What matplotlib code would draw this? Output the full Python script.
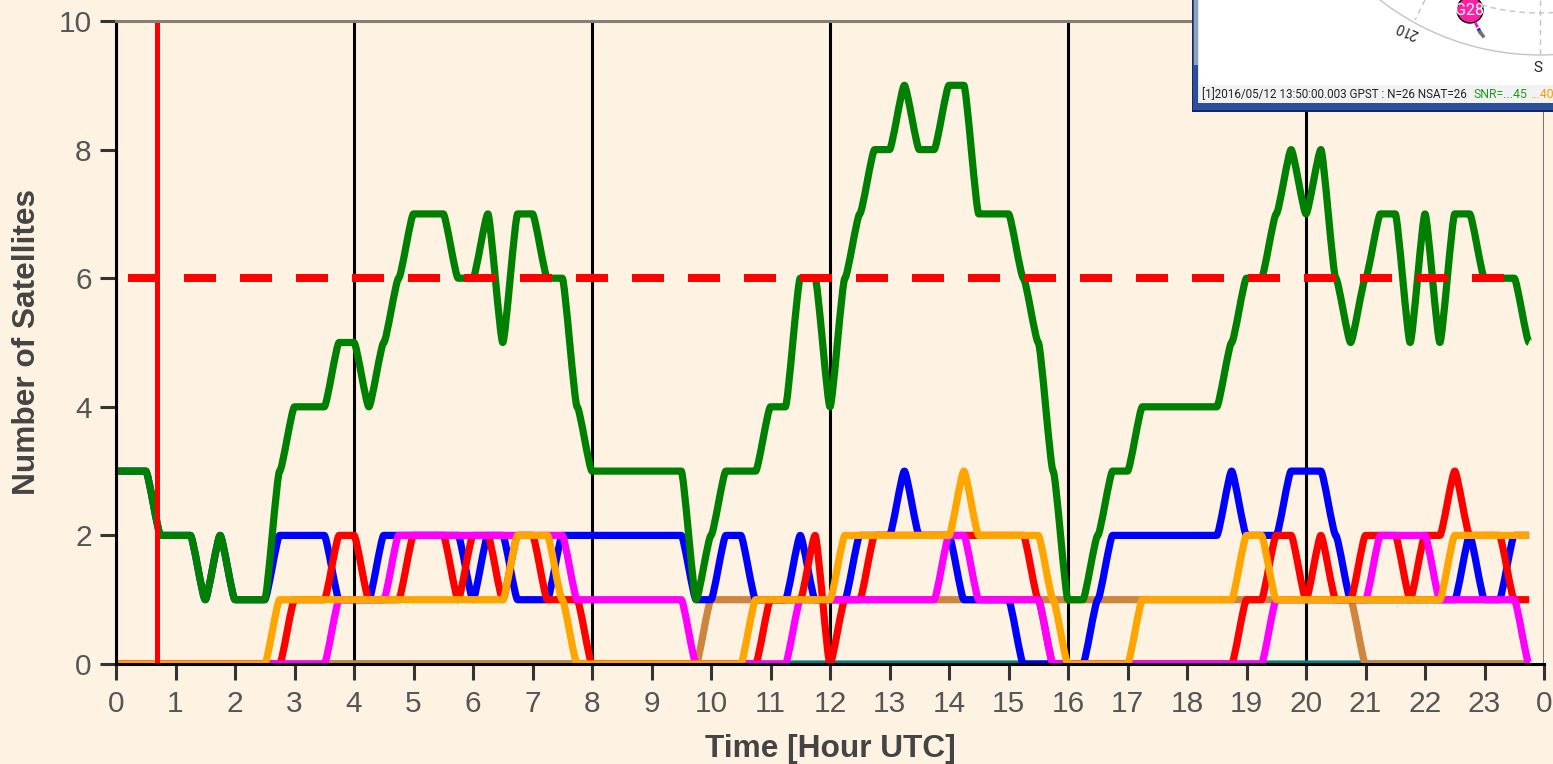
import numpy as np
import matplotlib
matplotlib.use("Agg")
import matplotlib.pyplot as plt
from matplotlib.patches import Circle, PathPatch, Rectangle
from matplotlib.path import Path

plt.rcParams['font.family'] = ['Liberation Sans', 'DejaVu Sans']

# one value every 15 minutes, four per row = one hour
green = [3, 3, 3, 2,  2, 2, 1, 2,  1, 1, 1, 3,  4, 4, 4, 5,
         5, 4, 5, 6,  7, 7, 7, 6,  6, 7, 5, 7,  7, 6, 6, 4,
         3, 3, 3, 3,  3, 3, 3, 1,  2, 3, 3, 3,  4, 4, 6, 6,
         4, 6, 7, 8,  8, 9, 8, 8,  9, 9, 7, 7,  7, 6, 5, 3,
         1, 1, 2, 3,  3, 4, 4, 4,  4, 4, 4, 5,  6, 6, 7, 8,
         7, 8, 6, 5,  6, 7, 7, 5,  7, 5, 7, 7,  6, 6, 6, 5]
blue = [3, 3, 3, 2,  2, 2, 1, 2,  1, 1, 1, 2,  2, 2, 2, 1,
        1, 1, 2, 2,  2, 2, 2, 2,  1, 2, 2, 1,  1, 1, 2, 2,
        2, 2, 2, 2,  2, 2, 2, 1,  1, 2, 2, 1,  1, 1, 2, 1,
        1, 1, 2, 2,  2, 3, 2, 2,  2, 1, 1, 1,  1, 0, 0, 0,
        0, 0, 1, 2,  2, 2, 2, 2,  2, 2, 2, 3,  2, 2, 2, 3,
        3, 3, 2, 1,  1, 1, 1, 1,  1, 1, 1, 2,  1, 1, 2, 2]
red = [0, 0, 0, 0,  0, 0, 0, 0,  0, 0, 0, 0,  1, 1, 1, 2,
       2, 1, 1, 1,  2, 2, 2, 1,  2, 2, 1, 2,  2, 1, 1, 1,
       0, 0, 0, 0,  0, 0, 0, 0,  0, 0, 0, 0,  1, 1, 1, 2,
       0, 1, 1, 2,  2, 2, 2, 2,  2, 2, 2, 2,  2, 2, 1, 0,
       0, 0, 0, 0,  0, 0, 0, 0,  0, 0, 0, 0,  1, 1, 2, 2,
       1, 2, 1, 1,  2, 2, 2, 1,  2, 2, 3, 2,  2, 2, 1, 1]
magenta = [0, 0, 0, 0,  0, 0, 0, 0,  0, 0, 0, 0,  0, 0, 0, 1,
           1, 1, 1, 2,  2, 2, 2, 2,  2, 2, 2, 2,  2, 2, 2, 1,
           1, 1, 1, 1,  1, 1, 1, 0,  0, 0, 0, 0,  0, 0, 1, 1,
           1, 1, 1, 1,  1, 1, 1, 1,  2, 2, 1, 1,  1, 1, 1, 0,
           0, 0, 0, 0,  0, 0, 0, 0,  0, 0, 0, 0,  0, 0, 1, 1,
           1, 1, 1, 1,  1, 2, 2, 2,  2, 1, 1, 1,  1, 1, 1, 0]
orange = [0, 0, 0, 0,  0, 0, 0, 0,  0, 0, 0, 1,  1, 1, 1, 1,
          1, 1, 1, 1,  1, 1, 1, 1,  1, 1, 1, 2,  2, 2, 1, 0,
          0, 0, 0, 0,  0, 0, 0, 0,  0, 0, 0, 1,  1, 1, 1, 1,
          1, 2, 2, 2,  2, 2, 2, 2,  2, 3, 2, 2,  2, 2, 2, 1,
          0, 0, 0, 0,  0, 1, 1, 1,  1, 1, 1, 1,  2, 2, 1, 1,
          1, 1, 1, 1,  1, 1, 1, 1,  1, 1, 2, 2,  2, 2, 2, 2]
brown = [0] * 40 + [1] * 44 + [0] * 12
teal = [0] * 96

hours = np.arange(96) * 0.25
series = [(teal, '#008080'), (brown, '#cd853f'), (blue, '#0000ff'), (red, '#ff0000'),
          (magenta, '#ff00ff'), (orange, '#ffa500'), (green, '#008000')]

x_ticks = list(range(25))
x_labels = [str(h) for h in range(24)] + ['0']
y_ticks = [0, 2, 4, 6, 8, 10]
black_hours = [0, 4, 8, 12, 16, 20]
threshold = 6
threshold_span = (0.2, 23.4)
current_time = 0.69

BG = '#fef3e2'
W, H = 1553, 764


def smooth_path(x, y, handle=0.18):
    # bezier through the samples, flat at each sample like the original's curve
    step = x[1] - x[0]
    verts = [(x[0], y[0])]
    codes = [Path.MOVETO]
    for i in range(1, len(x)):
        verts += [(x[i - 1] + handle * step, y[i - 1]), (x[i] - handle * step, y[i]), (x[i], y[i])]
        codes += [Path.CURVE4] * 3
    return Path(verts, codes)


fig = plt.figure(figsize=(W / 100, H / 100), dpi=100, facecolor=BG)
ax = fig.add_axes([116 / W, 1 - 664 / H, (1544 - 116) / W, (664 - 21) / H], facecolor=BG)

for h in black_hours:
    ax.axvline(h, color='black', lw=2.2, zorder=1)
ax.axvline(24, color='#777777', lw=2.2, zorder=1)

for values, color in series:
    ax.add_patch(PathPatch(smooth_path(hours, values), fc='none', ec=color, lw=5.2,
                           joinstyle='round', capstyle='butt', zorder=2))

ax.plot(threshold_span, [threshold, threshold], color='#ff0000', lw=5.76, dashes=(4.0, 3.0),
        dash_capstyle='butt', zorder=3)
ax.axvline(current_time, color='#ff0000', lw=3.6, zorder=3)

ax.set_xlim(0, 24)
ax.set_ylim(0, 10)
ax.set_xticks(x_ticks)
ax.set_xticklabels(x_labels)
ax.set_yticks(y_ticks)

for side in ['top', 'right', 'left', 'bottom']:
    ax.spines[side].set_linewidth(2.2)
    ax.spines[side].set_zorder(4)
ax.spines['top'].set_color('#857e74')
ax.spines['right'].set_visible(False)

ax.tick_params(axis='both', length=11.5, width=2.2, color='#333333', labelcolor='#555555', labelsize=21.5)
ax.tick_params(axis='x', pad=7)
ax.tick_params(axis='y', pad=6)

fig.text(830 / W, 1 - 749 / H, 'Time [Hour UTC]', ha='center', va='center', fontsize=22.8,
         fontweight='bold', color='#444444')
fig.text(27 / W, 1 - 342 / H, 'Number of Satellites', ha='center', va='center', rotation=90,
         fontsize=22.8, fontweight='bold', color='#444444')

# pasted sky plot window in the top right corner, in pixel coordinates
win = fig.add_axes([0, 0, 1, 1], zorder=5)
win.set_xlim(0, W)
win.set_ylim(H, 0)
win.axis('off')

win.add_patch(Rectangle((1192, -5), 400, 117, fc='#16275f', ec='none'))
win.add_patch(Rectangle((1193, -5), 400, 115, fc='#2b4f9c', ec='none'))
win.add_patch(Rectangle((1194, -5), 4, 70, fc='#8fa3bd', ec='none'))
win.add_patch(Rectangle((1198, -5), 400, 108, fc='#dce6f2', ec='none'))
body = Rectangle((1199, -5), 400, 90, fc='white', ec='none')
win.add_patch(body)
win.add_patch(Rectangle((1199, 85), 400, 18, fc='#f2f2f2', ec='none'))

sky_center = (1540, -205)
outer = Circle(sky_center, 260, fc='none', ec='#c4c4c4', lw=1.0)
inner = Circle(sky_center, 218, fc='none', ec='#c4c4c4', lw=1.0, ls=(0, (4, 3)))
win.add_patch(outer)
win.add_patch(inner)
outer.set_clip_path(body)
inner.set_clip_path(body)
win.plot([1540, 1540], [0, 55], color='#c4c4c4', lw=1.0, ls=(0, (4, 3)))
win.plot([1425, 1415], [0, 20], color='#c4c4c4', lw=1.0, ls=(0, (4, 3)))

win.add_patch(Circle((1470, 10), 13, fc='#ff1fa5', ec='black', lw=1.0))
win.text(1470, 10.5, 'G28', color='white', fontsize=11.5, ha='center', va='center', family='Roboto')
win.plot([1476, 1477], [24, 26], color='#ff00ff', lw=2.0)
win.plot([1479, 1480], [30, 32], color='#2020c0', lw=2.5)
win.plot([1480, 1483], [32, 36], color='#707070', lw=2.5)

win.text(1407, 30, '210', rotation=156, fontsize=10, ha='center', va='center', color='#222222',
         family='Roboto')
win.text(1538, 68, 'S', fontsize=11, ha='center', va='center', color='#222222', family='Roboto')

status_y = 94.5
win.text(1202, status_y, '[1]2016/05/12 13:50:00.003 GPST : N=26 NSAT=26', fontsize=8.35, va='center',
         color='#222222', family='Roboto')
win.text(1473, status_y, 'SNR=...45', fontsize=8.8, va='center', color='#1f9a1f', family='Roboto')
win.text(1530, status_y, '...40', fontsize=8.8, va='center', color='#f5a000', family='Roboto')

fig.savefig('out.png', dpi=100, facecolor=BG)
